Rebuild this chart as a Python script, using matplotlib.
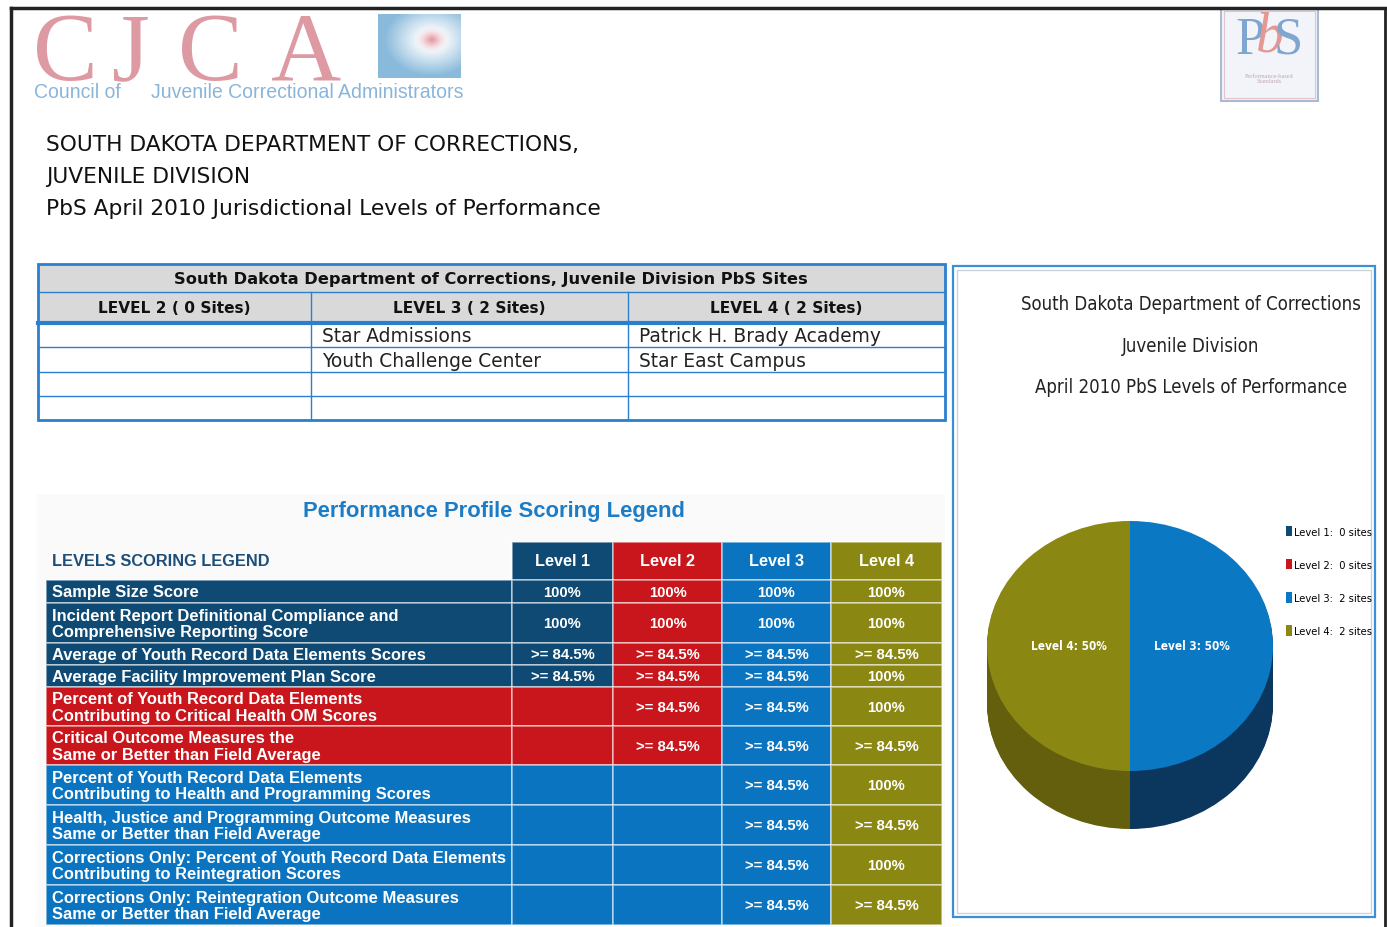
import numpy as np
import matplotlib
matplotlib.use("Agg")
import matplotlib.pyplot as plt
from matplotlib.patches import Rectangle
import matplotlib.font_manager as fm

# ---------------- data ----------------
heading_lines = ["SOUTH DAKOTA DEPARTMENT OF CORRECTIONS,", "JUVENILE DIVISION",
                 "PbS April 2010 Jurisdictional Levels of Performance"]
sites_title = "South Dakota Department of Corrections, Juvenile Division PbS Sites"
site_levels = ["LEVEL 2 ( 0 Sites)", "LEVEL 3 ( 2 Sites)", "LEVEL 4 ( 2 Sites)"]
level2_sites = ["", "", "", ""]
level3_sites = ["Star Admissions", "Youth Challenge Center", "", ""]
level4_sites = ["Patrick H. Brady Academy", "Star East Campus", "", ""]

legend_title = "Performance Profile Scoring Legend"
legend_subtitle = "LEVELS SCORING LEGEND"
level_names = ["Level 1", "Level 2", "Level 3", "Level 4"]
level_colors = ["#0e4a74", "#c8161c", "#0a74c0", "#8a8712"]
criteria = [
    "Sample Size Score",
    "Incident Report Definitional Compliance and\nComprehensive Reporting Score",
    "Average of Youth Record Data Elements Scores",
    "Average Facility Improvement Plan Score",
    "Percent of Youth Record Data Elements\nContributing to Critical Health OM Scores",
    "Critical Outcome Measures the\nSame or Better than Field Average",
    "Percent of Youth Record Data Elements\nContributing to Health and Programming Scores",
    "Health, Justice and Programming Outcome Measures\nSame or Better than Field Average",
    "Corrections Only: Percent of Youth Record Data Elements\nContributing to Reintegration Scores",
    "Corrections Only: Reintegration Outcome Measures\nSame or Better than Field Average",
]
criteria_group = [0, 0, 0, 0, 1, 1, 2, 2, 2, 2]   # index into level_colors
level1_req = ["100%", "100%", ">= 84.5%", ">= 84.5%", "", "", "", "", "", ""]
level2_req = ["100%", "100%", ">= 84.5%", ">= 84.5%", ">= 84.5%", ">= 84.5%", "", "", "", ""]
level3_req = ["100%", "100%", ">= 84.5%", ">= 84.5%", ">= 84.5%", ">= 84.5%",
              ">= 84.5%", ">= 84.5%", ">= 84.5%", ">= 84.5%"]
level4_req = ["100%", "100%", ">= 84.5%", "100%", "100%", ">= 84.5%",
              "100%", ">= 84.5%", "100%", ">= 84.5%"]

pie_title = ["South Dakota Department of Corrections", "Juvenile Division",
             "April 2010 PbS Levels of Performance"]
pie_levels = ["Level 1", "Level 2", "Level 3", "Level 4"]
pie_sites = [0, 0, 2, 2]
pie_colors = ["#0e4a74", "#c8161c", "#0a78c2", "#8a8712"]
pie_side_colors = ["#082c4a", "#7a0e10", "#0b375f", "#635f0c"]

# ---------------- fonts ----------------
avail = {f.name for f in fm.fontManager.ttflist}
ARIAL = "Liberation Sans" if "Liberation Sans" in avail else "DejaVu Sans"
SERIF = "Liberation Serif" if "Liberation Serif" in avail else "DejaVu Serif"
COND_ST = ("condensed", "semi-condensed", "extra-condensed", "ultra-condensed")


def find_narrow(bold=False):
    best = None
    for f in fm.fontManager.ttflist:
        nm = f.name.lower()
        st = f.stretch
        cond = ("narrow" in nm or "condensed" in nm or st in COND_ST
                or (isinstance(st, (int, float)) and st <= 400))
        if not cond or "mono" in nm or "serif" in nm or f.style != "normal":
            continue
        w = f.weight if isinstance(f.weight, int) else {"normal": 400, "regular": 400,
                                                        "bold": 700}.get(f.weight, 400)
        score = abs(w - (700 if bold else 400))
        if best is None or score < best[0]:
            best = (score, f.fname)
    if best:
        return fm.FontProperties(fname=best[1])
    fam = "Lato" if "Lato" in avail else "DejaVu Sans"
    return fm.FontProperties(family=fam, weight="bold" if bold else "normal")


NARROW = find_narrow(False)
NARROW_B = find_narrow(True)

W, H = 1387, 928
fig = plt.figure(figsize=(W / 100, H / 100), dpi=100)
ax = fig.add_axes([0, 0, 1, 1])
ax.set_xlim(0, W)
ax.set_ylim(H, 0)
ax.axis("off")
renderer = fig.canvas.get_renderer()


def make_fp(fp=None, family="DejaVu Sans", weight="normal", size=10):
    if fp is not None:
        p = fp.copy()
    else:
        p = fm.FontProperties(family=family, weight=weight)
    p.set_size(size)
    return p


def fit(s, target_w, fp=None, family="DejaVu Sans", weight="normal"):
    """Font size (pt) so that string s is target_w pixels wide."""
    p = make_fp(fp, family, weight, 20)
    t = ax.text(0, 0, s, fontproperties=p)
    w = t.get_window_extent(renderer).width
    t.remove()
    return 20 * target_w / w


def txt(x, y, s, size, fp=None, family="DejaVu Sans", weight="normal", **kw):
    p = make_fp(fp, family, weight, size)
    return ax.text(x, y, s, fontproperties=p, **kw)


# page border
ax.plot([11, 11], [928, 9], color="#222222", lw=2.5)
ax.plot([11, 1385], [9, 9], color="#222222", lw=2.5)
ax.plot([1385, 1385], [9, 928], color="#222222", lw=2.0)

# ---------------- CJCA logo ----------------
pink = "#de9aa3"
for ch, x in zip("CJCA", [65, 131, 210, 306]):
    txt(x, 80, ch, 70, family=SERIF, color=pink, ha="center", va="baseline")
sz = fit("Juvenile Correctional Administrators", 311, family=ARIAL)
txt(34, 93, "Council of", sz, family=ARIAL, color="#8ab5da", ha="left", va="center")
txt(151, 93, "Juvenile Correctional Administrators", sz, family=ARIAL, color="#8ab5da",
    ha="left", va="center")
gx, gy = np.meshgrid(np.linspace(-1, 1, 80), np.linspace(-1, 1, 64))
rr = np.sqrt((gx - 0.3) ** 2 + (gy + 0.2) ** 2)
blue = np.array([0.54, 0.73, 0.86])
white = np.array([1.0, 1.0, 1.0])
pinkc = np.array([0.88, 0.58, 0.63])
t1 = np.clip((rr - 0.25) / 0.9, 0, 1)[..., None]
img = white * (1 - t1) + blue * t1
t2 = np.clip(1 - rr / 0.4, 0, 1)[..., None] ** 1.3
img = img * (1 - t2) + pinkc * t2
ax.imshow(img, extent=(378, 461, 79, 15), zorder=1, aspect="auto")

# ---------------- PbS logo ----------------
ax.add_patch(Rectangle((1221, 10), 97, 92, facecolor="#f2f4fa", edgecolor="#a9bad3", lw=1.5))
ax.add_patch(Rectangle((1224, 12), 91, 87, facecolor="none", edgecolor="#e2c3c8", lw=0.8))
txt(1250, 41, "P", 38, family=SERIF, color="#7fa6cf", ha="center", va="center")
txt(1270, 38, "b", 40, family=SERIF, color="#e49894", ha="center", va="center",
    style="italic")
txt(1288, 41, "S", 38, family=SERIF, color="#7fa6cf", ha="center", va="center")
txt(1269, 79, "Performance-based\nStandards", 4.5, family=SERIF, color="#c0a8b5",
    ha="center", va="center", linespacing=1.1)

# ---------------- headings ----------------
sz = fit(heading_lines[0], 532)
for i, line in enumerate(heading_lines):
    txt(46, 145 + 32 * i, line, sz, color="#111111", ha="left", va="center")

# ---------------- sites table ----------------
tb_blue = "#2b7fcf"
col_x = [38, 311, 628, 945]
ax.add_patch(Rectangle((38, 265), 907, 57, facecolor="#d9d9d9", edgecolor="none"))
sz = fit(sites_title, 630, weight="bold")
txt(491, 280, sites_title, sz, weight="bold", ha="center", va="center", color="#111111")
sz = fit(site_levels[0], 153, weight="bold")
for j, lab in enumerate(site_levels):
    txt((col_x[j] + col_x[j + 1]) / 2, 309, lab, sz, weight="bold", ha="center",
        va="center", color="#111111")
row_y = [324, 348, 373, 397, 421]
site_cols = [level2_sites, level3_sites, level4_sites]
sz = fit("Patrick H. Brady Academy", 241)
for j, col in enumerate(site_cols):
    for i, name in enumerate(col):
        if name:
            txt(col_x[j] + 11, (row_y[i] + row_y[i + 1]) / 2 + 1, name, sz,
                color="#222222", ha="left", va="center")
ax.plot([38, 945], [293, 293], color=tb_blue, lw=1)
ax.plot([38, 945], [323.5, 323.5], color=tb_blue, lw=3)
for y in row_y[1:-1]:
    ax.plot([38, 945], [y, y], color=tb_blue, lw=1)
for x in col_x[1:-1]:
    ax.plot([x, x], [293, 421], color=tb_blue, lw=1)
ax.add_patch(Rectangle((38, 265), 907, 156, facecolor="none", edgecolor=tb_blue, lw=2))

# ---------------- scoring legend ----------------
ax.add_patch(Rectangle((37, 495), 908, 433, facecolor="#fafafa", edgecolor="none", zorder=0))
sz = fit(legend_title, 381, family=ARIAL, weight="bold")
txt(494, 511, legend_title, sz, family=ARIAL, weight="bold", color="#1c7cc6",
    ha="center", va="center")
sz = fit(legend_subtitle, 218, family=ARIAL, weight="bold")
txt(52, 562, legend_subtitle, sz, family=ARIAL, weight="bold", color="#1d4f7a",
    ha="left", va="center")

lx = [46, 512, 613, 722, 831, 942]
row_h = [23, 40, 22, 22, 39, 39, 40, 40, 40, 40]
edges = np.concatenate([[581], 581 + np.cumsum(row_h)])
line_col = (1, 1, 1, 0.55)
sz_head = fit("Level 1", 55, family=ARIAL, weight="bold")
for j, name in enumerate(level_names):
    ax.add_patch(Rectangle((lx[j + 1], 543), lx[j + 2] - lx[j + 1], 38,
                           facecolor=level_colors[j], edgecolor=line_col, lw=1.2))
    txt((lx[j + 1] + lx[j + 2]) / 2, 562, name, sz_head, family=ARIAL, weight="bold",
        color="white", ha="center", va="center")
reqs = [level1_req, level2_req, level3_req, level4_req]
sz_lab = fit("Corrections Only: Percent of Youth Record Data Elements", 453,
             family=ARIAL, weight="bold")
sz_val = fit(">= 84.5%", 64, family=ARIAL, weight="bold")
for i, crit in enumerate(criteria):
    y0, y1 = edges[i], edges[i + 1]
    rc = level_colors[criteria_group[i]]
    ax.add_patch(Rectangle((lx[0], y0), lx[1] - lx[0], y1 - y0, facecolor=rc,
                           edgecolor=line_col, lw=1.2))
    txt(52, (y0 + y1) / 2 + 0.5, crit, sz_lab, family=ARIAL, weight="bold", color="white",
        ha="left", va="center", linespacing=1.15)
    for j in range(4):
        v = reqs[j][i]
        fc = level_colors[j] if v else rc
        ax.add_patch(Rectangle((lx[j + 1], y0), lx[j + 2] - lx[j + 1], y1 - y0, facecolor=fc,
                               edgecolor=line_col, lw=1.2))
        if v:
            txt((lx[j + 1] + lx[j + 2]) / 2, (y0 + y1) / 2 + 0.5, v, sz_val, family=ARIAL,
                weight="bold", color="white", ha="center", va="center")

# ---------------- pie panel ----------------
ax.add_patch(Rectangle((953, 267), 422, 651, facecolor="white", edgecolor="#3b8fd8", lw=1.6))
ax.add_patch(Rectangle((957, 271), 414, 643, facecolor="none", edgecolor="#c9d3de", lw=1.0))
sz = fit(pie_title[0], 340, fp=NARROW)
for i, line in enumerate(pie_title):
    txt(1191, 305 + 41.5 * i, line, sz, fp=NARROW, color="#222222", ha="center", va="center")

axp = fig.add_axes([987 / W, 1 - 830 / H, 286 / W, 308 / H])
depth = 0.464
n_layers = 40
for k in range(n_layers, 0, -1):
    axp.pie(pie_sites, colors=pie_side_colors, startangle=90, counterclock=False,
            center=(0, -depth * k / n_layers), radius=1, wedgeprops=dict(linewidth=0))
pie_labels = [f"{n}: {round(100 * s / sum(pie_sites))}%" if s else ""
              for n, s in zip(pie_levels, pie_sites)]
sz = fit("Level 3: 50%", 76, fp=NARROW_B)
wedges, texts = axp.pie(pie_sites, colors=pie_colors, startangle=90, counterclock=False,
                        center=(0, 0), radius=1, labels=pie_labels, labeldistance=0.43,
                        wedgeprops=dict(linewidth=0),
                        textprops=dict(color="white",
                                       fontproperties=make_fp(NARROW_B, size=sz)))
for t in texts:
    t.set_ha("center")
    t.set_va("center")
axp.set_aspect("auto")
axp.set_xlim(-1, 1)
axp.set_ylim(-1 - depth, 1)
axp.axis("off")

legend_labels = [f"{n}:  {s} sites" for n, s in zip(pie_levels, pie_sites)]
sz = fit(legend_labels[0], 78, fp=NARROW)
axp.legend(wedges, legend_labels, loc="upper left", bbox_to_anchor=(1280 / W, 1 - 521 / H),
           bbox_transform=fig.transFigure, frameon=False, handlelength=0.55, handleheight=1.1,
           handletextpad=0.2, labelspacing=2.0, borderpad=0,
           prop=make_fp(NARROW, size=sz))

fig.savefig("out.png", dpi=100)
